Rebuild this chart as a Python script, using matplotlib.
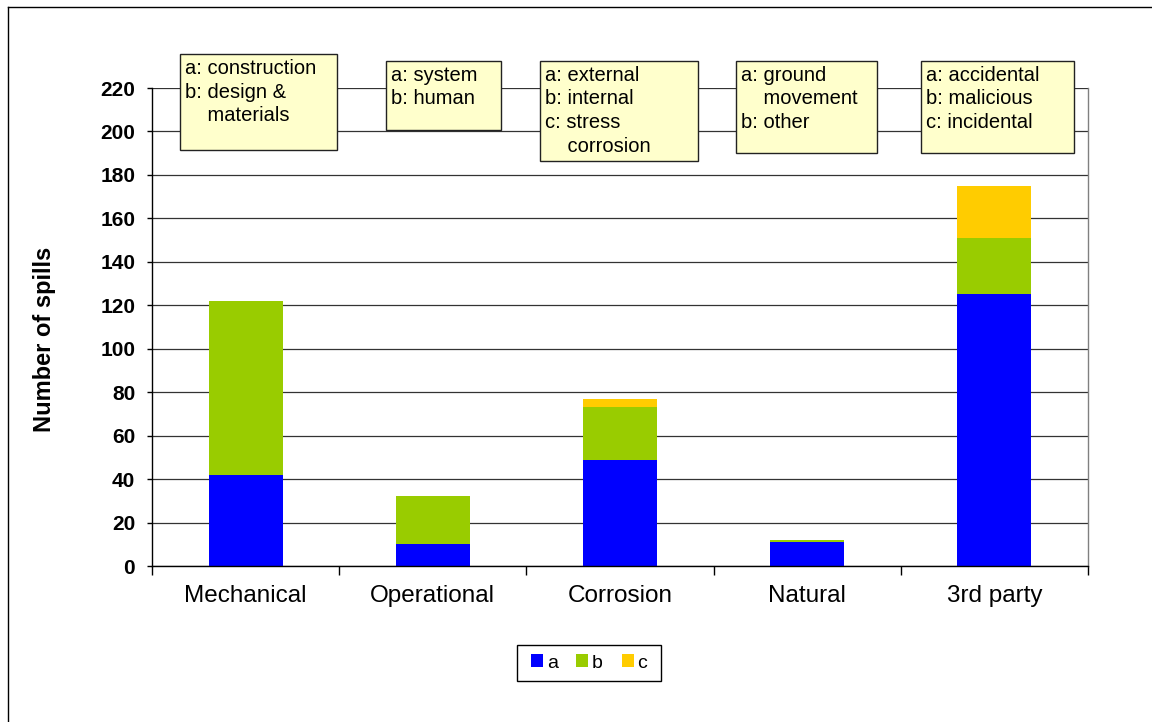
import matplotlib
matplotlib.use("Agg")
import matplotlib.pyplot as plt
from matplotlib.patches import Rectangle
from matplotlib.lines import Line2D
import numpy as np

plt.rcParams['font.family'] = ['Liberation Sans', 'DejaVu Sans']

# ---- data ----
categories = ["Mechanical", "Operational", "Corrosion", "Natural", "3rd party"]
series_a = [42, 10, 49, 11, 125]
series_b = [80, 22, 24, 1, 26]
series_c = [0, 0, 4, 0, 24]
series_names = ["a", "b", "c"]
yticks = list(range(0, 221, 20))
box_texts = [
    "a: construction\nb: design &\n    materials",
    "a: system\nb: human",
    "a: external\nb: internal\nc: stress\n    corrosion",
    "a: ground\n    movement\nb: other",
    "a: accidental\nb: malicious\nc: incidental",
]
# box pixel geometry (left, top, right, bottom)
box_geom = [
    (180, 54, 337, 150),
    (386, 61, 501, 130),
    (540, 61, 698, 161),
    (736, 61, 877, 153),
    (921, 61, 1074, 153),
]

colors = ["#0000FF", "#99CC00", "#FFCC00"]

W, H = 1152, 722
fig = plt.figure(figsize=(W / 100, H / 100), dpi=100)
fig.patch.set_facecolor("white")

def fx(px):
    return px / W

def fy(py):
    return 1 - py / H

ax_l, ax_r, ax_t, ax_b = 152, 1088, 88, 566
ax = fig.add_axes([fx(ax_l), fy(ax_b), (ax_r - ax_l) / W, (ax_b - ax_t) / H])

x = np.arange(len(categories))
width = 0.395
a = np.array(series_a)
b = np.array(series_b)
c = np.array(series_c)
ba = ax.bar(x, a, width, color=colors[0], zorder=2, linewidth=0)
bb = ax.bar(x, b, width, bottom=a, color=colors[1], zorder=2, linewidth=0)
bc = ax.bar(x, c, width, bottom=a + b, color=colors[2], zorder=2, linewidth=0)

ax.set_xlim(-0.5, len(categories) - 0.5)
ax.set_ylim(0, 220)
ax.set_yticks(yticks)
ax.set_yticklabels([str(v) for v in yticks], fontsize=15, fontweight="bold")
ax.yaxis.grid(True, color="#333333", linewidth=0.9, zorder=0)
ax.set_axisbelow(True)

ax.set_xticks(x)
ax.set_xticklabels(categories, fontsize=17.5)
ax.tick_params(axis="x", which="major", length=0, pad=14)
ax.set_xticks(np.arange(len(categories) + 1) - 0.5, minor=True)
ax.tick_params(axis="x", which="minor", length=6.5, width=1, direction="out", color="black")
ax.tick_params(axis="y", length=3.6, width=1, direction="out", pad=8.5, color="black")

for s in ["left", "bottom"]:
    ax.spines[s].set_color("black")
    ax.spines[s].set_linewidth(1)
ax.spines["top"].set_visible(False)
ax.spines["right"].set_color("#808080")
ax.spines["right"].set_linewidth(1)

# y label
fig.text(fx(45), fy(339.5), "Number of spills", rotation=90, ha="center", va="center",
         fontsize=17, fontweight="bold")

# annotation boxes
for txt, (l, t, r, btm) in zip(box_texts, box_geom):
    rect = Rectangle((fx(l), fy(btm)), (r - l) / W, (btm - t) / H, transform=fig.transFigure,
                     facecolor="#FFFFCC", edgecolor="#222222", linewidth=1, zorder=5)
    fig.add_artist(rect)
    fig.text(fx(l + 5), fy(t + 5), txt, ha="left", va="top", fontsize=14.5,
             linespacing=1.3, zorder=6)

# legend (frame drawn separately)
leg_frame = Rectangle((fx(517), fy(681)), 144 / W, 36 / H, transform=fig.transFigure,
                      facecolor="white", edgecolor="black", linewidth=1, zorder=4)
fig.add_artist(leg_frame)
leg = fig.legend([ba, bb, bc], series_names, loc="center", bbox_to_anchor=(fx(589), fy(663)),
                 ncol=3, fontsize=14, frameon=False, handlelength=0.62, handleheight=0.62,
                 handletextpad=0.2, columnspacing=0.95, borderpad=0, borderaxespad=0)
leg.set_zorder(6)

# outer chart border (left and top visible)
fig.add_artist(Line2D([fx(8), fx(8)], [fy(7), 0], transform=fig.transFigure, color="black", linewidth=1))
fig.add_artist(Line2D([fx(8), 1], [fy(7), fy(7)], transform=fig.transFigure, color="black", linewidth=1))

fig.savefig("out.png", dpi=100)
